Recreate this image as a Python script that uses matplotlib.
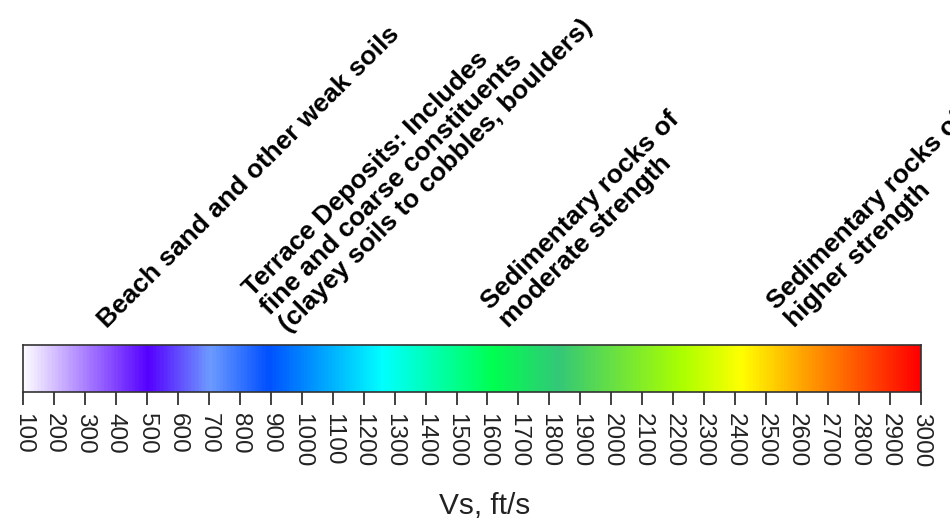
import matplotlib

matplotlib.use("Agg")
import matplotlib.pyplot as plt
import numpy as np
from matplotlib.colors import LinearSegmentedColormap

plt.rcParams["font.family"] = ["Liberation Sans", "DejaVu Sans"]

# Vs range and colour stops of the bar
vs_min, vs_max = 100, 3000
stop_values = [100, 500, 700, 890, 1260, 1620, 1830, 2230, 2425, 2620, 3000]
stop_colors = [
    "#fcfaff", "#5500ff", "#6e9bff", "#0050ff", "#00ffff", "#00ff50",
    "#33c878", "#aaff00", "#ffff00", "#ffa500", "#ff0000",
]
tick_values = [100, 200, 300, 400, 500, 600, 700, 800, 900, 1000,
               1100, 1200, 1300, 1400, 1500, 1600, 1700, 1800, 1900, 2000,
               2100, 2200, 2300, 2400, 2500, 2600, 2700, 2800, 2900, 3000]
tick_labels = [str(v) for v in tick_values]

# Material classes; anchored at the start of their last line
class_labels = [
    "Beach sand and other weak soils",
    "Terrace Deposits: Includes\nfine and coarse constituents\n(clayey soils to cobbles, boulders)",
    "Sedimentary rocks of\nmoderate strength",
    "Sedimentary rocks of\nhigher strength",
]
class_vs = [371, 953, 1663, 2587]
class_height = [1.34, 1.26, 1.38, 1.38]  # axes fraction above the bar

fig = plt.figure(figsize=(9.5, 5.23), dpi=100)
ax = fig.add_axes([23 / 950, 131 / 523, 898 / 950, 47 / 523])

# Build the colour bar
positions = [(v - vs_min) / (vs_max - vs_min) for v in stop_values]
cmap = LinearSegmentedColormap.from_list("vs", list(zip(positions, stop_colors)))
grid = np.linspace(vs_min, vs_max, 1200).reshape(1, -1)
ax.imshow(grid, cmap=cmap, vmin=vs_min, vmax=vs_max, aspect="auto",
          extent=[vs_min, vs_max, 0, 1], interpolation="bilinear")
ax.set_xlim(vs_min, vs_max)
ax.set_ylim(0, 1)
ax.set_yticks([])
for side in ax.spines.values():
    side.set_color("#333333")
    side.set_linewidth(1.2)

ax.set_xticks(tick_values)
ax.set_xticklabels(tick_labels, rotation=270, va="top", ha="center")
ax.tick_params(axis="x", length=9, width=1.3, color="#333333", pad=6,
               labelsize=17.5, labelcolor="#222222")

for text, vs, h in zip(class_labels, class_vs, class_height):
    ax.text(vs, h, text, transform=ax.get_xaxis_transform(), rotation=45,
            rotation_mode="anchor", ha="left", va="baseline",
            fontsize=19, fontweight="bold", linespacing=1.08, clip_on=False)

fig.text(485 / 950, 1 - 506 / 523, "Vs, ft/s", ha="center", va="center",
         fontsize=21.5, color="#222222")

fig.savefig("out.png", dpi=100)
